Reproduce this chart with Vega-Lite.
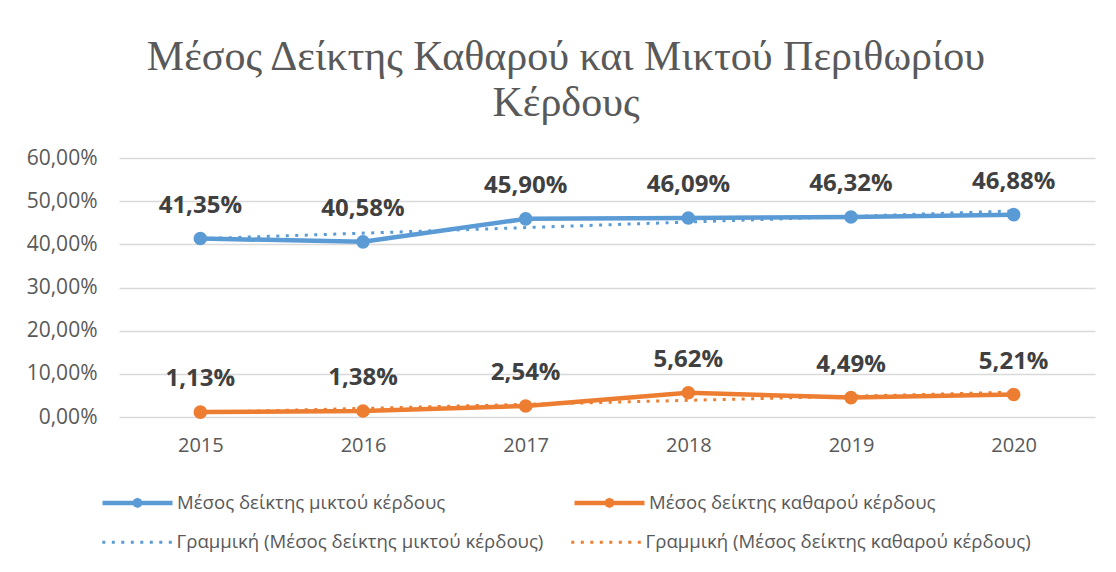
{
  "$schema": "https://vega.github.io/schema/vega-lite/v6.json",
  "autosize": {"type": "none"},
  "padding": {"left": 119, "top": 158, "right": 21, "bottom": 155},
  "width": 976,
  "height": 259,
  "background": "#ffffff",
  "config": {
    "locale": {"number": {"decimal": ",", "thousands": ".", "grouping": [3], "currency": ["", " €"]}},
    "view": {"stroke": null},
    "font": "Open Sans"
  },
  "title": {
    "text": ["Μέσος Δείκτης Καθαρού και Μικτού Περιθωρίου", "Κέρδους"],
    "font": "Liberation Serif",
    "fontSize": 42,
    "fontWeight": "normal",
    "color": "#595959",
    "lineHeight": 46,
    "anchor": "middle",
    "dx": -41,
    "offset": 22
  },
  "datasets": {
    "main": [
      {"year": "2015", "series": "Μέσος δείκτης μικτού κέρδους", "value": 0.4135},
      {"year": "2016", "series": "Μέσος δείκτης μικτού κέρδους", "value": 0.4058},
      {"year": "2017", "series": "Μέσος δείκτης μικτού κέρδους", "value": 0.4590},
      {"year": "2018", "series": "Μέσος δείκτης μικτού κέρδους", "value": 0.4609},
      {"year": "2019", "series": "Μέσος δείκτης μικτού κέρδους", "value": 0.4632},
      {"year": "2020", "series": "Μέσος δείκτης μικτού κέρδους", "value": 0.4688},
      {"year": "2015", "series": "Μέσος δείκτης καθαρού κέρδους", "value": 0.0113},
      {"year": "2016", "series": "Μέσος δείκτης καθαρού κέρδους", "value": 0.0138},
      {"year": "2017", "series": "Μέσος δείκτης καθαρού κέρδους", "value": 0.0254},
      {"year": "2018", "series": "Μέσος δείκτης καθαρού κέρδους", "value": 0.0562},
      {"year": "2019", "series": "Μέσος δείκτης καθαρού κέρδους", "value": 0.0449},
      {"year": "2020", "series": "Μέσος δείκτης καθαρού κέρδους", "value": 0.0521}
    ],
    "trend": [
      {"year": "2015", "series": "Γραμμική (Μέσος δείκτης μικτού κέρδους)", "value": 0.4130},
      {"year": "2020", "series": "Γραμμική (Μέσος δείκτης μικτού κέρδους)", "value": 0.4774},
      {"year": "2015", "series": "Γραμμική (Μέσος δείκτης καθαρού κέρδους)", "value": 0.0105},
      {"year": "2020", "series": "Γραμμική (Μέσος δείκτης καθαρού κέρδους)", "value": 0.0574}
    ]
  },
  "encoding": {
    "x": {
      "field": "year",
      "type": "ordinal",
      "scale": {"type": "point", "padding": 0.5, "domain": ["2015", "2016", "2017", "2018", "2019", "2020"]},
      "axis": {
        "title": null,
        "labelAngle": 0,
        "labelFont": "Open Sans",
        "labelFontSize": 20,
        "labelColor": "#595959",
        "ticks": false,
        "domain": false,
        "grid": false,
        "labelPadding": 18
      }
    },
    "y": {
      "field": "value",
      "type": "quantitative",
      "scale": {"domain": [0, 0.6], "nice": false, "zero": true},
      "axis": {
        "title": null,
        "values": [0, 0.1, 0.2, 0.3, 0.4, 0.5, 0.6],
        "format": ".2%",
        "labelFont": "Open Sans",
        "labelFontSize": 21,
        "labelColor": "#595959",
        "ticks": false,
        "domain": false,
        "gridColor": "#D9D9D9",
        "gridWidth": 1.5,
        "labelPadding": 22
      }
    }
  },
  "layer": [
    {
      "data": {"name": "main"},
      "mark": {"type": "line", "strokeWidth": 4.5, "strokeCap": "round", "strokeJoin": "round", "point": {"filled": true, "size": 185, "opacity": 1}},
      "encoding": {
        "color": {
          "field": "series",
          "type": "nominal",
          "scale": {
            "domain": ["Μέσος δείκτης μικτού κέρδους", "Μέσος δείκτης καθαρού κέρδους"],
            "range": ["#5B9BD5", "#ED7D31"]
          },
          "legend": {
            "title": null,
            "orient": "none",
            "legendX": -19,
            "legendY": 335,
            "direction": "horizontal",
            "columns": 2,
            "padding": 0,
            "symbolSize": 196,
            "symbolType": "M-1,0H9M4.38,0L4.269,0.269L4,0.38L3.731,0.269L3.62,0L3.731,-0.269L4,-0.38L4.269,-0.269Z",
            "symbolStrokeWidth": 4.5,
            "labelOffset": 58,
            "labelFont": "Open Sans",
            "labelFontSize": 18.6,
            "labelColor": "#595959",
            "labelLimit": 600,
            "columnPadding": 119
          }
        }
      }
    },
    {
      "data": {"name": "trend"},
      "mark": {"type": "line", "strokeWidth": 3, "strokeCap": "butt"},
      "encoding": {
        "stroke": {
          "field": "series",
          "type": "nominal",
          "scale": {
            "domain": ["Γραμμική (Μέσος δείκτης μικτού κέρδους)", "Γραμμική (Μέσος δείκτης καθαρού κέρδους)"],
            "range": ["#5B9BD5", "#ED7D31"]
          },
          "legend": {
            "title": null,
            "orient": "none",
            "legendX": -19,
            "legendY": 375,
            "direction": "horizontal",
            "columns": 2,
            "padding": 0,
            "symbolSize": 196,
            "symbolType": "M-1,0H9",
            "symbolStrokeWidth": 3,
            "labelOffset": 58,
            "labelFont": "Open Sans",
            "labelFontSize": 18.6,
            "labelColor": "#595959",
            "labelLimit": 600,
            "columnPadding": 21
          }
        },
        "strokeDash": {
          "field": "series",
          "type": "nominal",
          "scale": {
            "domain": ["Γραμμική (Μέσος δείκτης μικτού κέρδους)", "Γραμμική (Μέσος δείκτης καθαρού κέρδους)"],
            "range": [[3, 6.5], [3, 6.5]]
          }
        }
      }
    },
    {
      "data": {"name": "main"},
      "mark": {"type": "text", "dy": -33, "baseline": "middle", "align": "center", "font": "Open Sans", "fontSize": 24, "fontWeight": "bold", "color": "#404040"},
      "encoding": {
        "text": {"field": "value", "type": "quantitative", "format": ".2%"}
      }
    }
  ]
}
